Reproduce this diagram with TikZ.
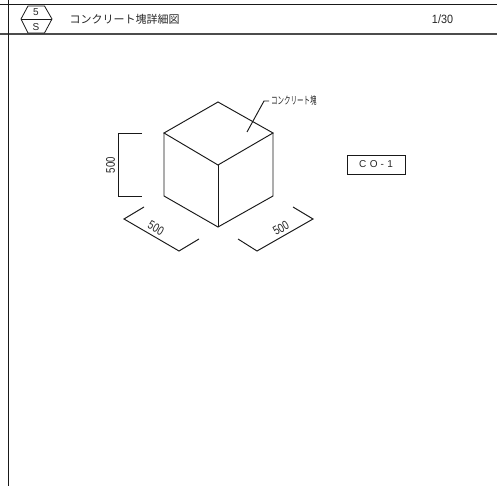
\documentclass[tikz,border=0pt]{standalone}
\usepackage{fontspec}
\setmainfont{Liberation Sans}
\newfontfamily\cjk{Noto Sans CJK JP}
\tikzset{
  ln/.style={draw=black!90,line width=0.95pt,line join=miter},
  thick line/.style={draw=black!70,line width=1.5pt},
  lbl/.style={inner sep=0pt,outer sep=0pt,text=black!85},
  dimtext/.style={lbl,xscale=0.77,font=\fontsize{12.5}{14}\selectfont},
}
\begin{document}
\begin{tikzpicture}[x=1pt,y=-1pt]
\useasboundingbox[fill=white] (0,0) rectangle (497,486);
% frame
\draw[ln] (0,4.5) -- (497,4.5);
\draw[thick line] (0,34) -- (497,34);
\draw[ln] (8.5,0) -- (8.5,486);
% hexagon
\draw[ln,line width=0.8pt] (28,6) -- (44.5,6) -- (52,19) -- (44.5,33) -- (28,33) -- (21,19) -- cycle;
\draw[ln,line width=0.8pt] (21,19) -- (52,19);
\node[lbl,font=\fontsize{10}{12}\selectfont] (n5) at (36,12.5) {5};
\node[lbl,font=\fontsize{10}{12}\selectfont] (nS) at (36,27) {S};
\node[lbl,anchor=west,font=\cjk\fontsize{11}{13}\selectfont] (title) at (69.5,19) {コンクリート塊詳細図};
\node[lbl,anchor=center,xscale=0.9,font=\fontsize{12}{14}\selectfont] (page) at (442.5,19.5) {1/30};
% cube
\coordinate (T) at (218,102);
\coordinate (L) at (164,133);
\coordinate (R) at (273,133);
\coordinate (C) at (218,165);
\coordinate (BL) at (164,196);
\coordinate (BR) at (273,196);
\coordinate (B) at (218,227);
\draw[ln] (T) -- (R) -- (C) -- (L) -- cycle;
\draw[ln] (L) -- (BL) -- (B) -- (BR) -- (R);
\draw[ln] (C) -- (B);
% leader
\node[lbl,anchor=west,xscale=0.62,font=\cjk\fontsize{10.5}{12}\selectfont,transform shape] (blk) at (271,101) {コンクリート塊};
\coordinate (l1) at (247,132);
\coordinate (l2) at (264,101);
\coordinate (l3) at (269,101);
\draw[ln] (l1) -- (l2) -- (l3);
% height dimension
\coordinate (h1) at (142,133);
\coordinate (h2) at (118,133);
\coordinate (h3) at (118,196);
\coordinate (h4) at (142,196);
\draw[ln] (h1) -- (h2) -- (h3) -- (h4);
\node[rotate=90,dimtext] (d1) at (110.5,165) {500};
% left dimension
\coordinate (a1) at (144,207);
\coordinate (a2) at (124,219);
\coordinate (a3) at (179,251);
\coordinate (a4) at (199,239);
\draw[ln] (a1) -- (a2) -- (a3) -- (a4);
\node[rotate=-30,dimtext] (d2) at (156,228) {500};
% right dimension
\coordinate (b1) at (238,239);
\coordinate (b2) at (257,251);
\coordinate (b3) at (313,219);
\coordinate (b4) at (293,207);
\draw[ln] (b1) -- (b2) -- (b3) -- (b4);
\node[rotate=30,dimtext] (d3) at (281,228) {500};
% tag
\node[draw=black!90,line width=0.95pt,minimum width=58pt,minimum height=19pt,inner sep=0pt,text=black!85,font=\fontsize{10}{12}\selectfont] (tag) at (376,164.5) {C\hspace{3.5pt}O\hspace{3pt}-\hspace{3.5pt}1};
\end{tikzpicture}
\end{document}
